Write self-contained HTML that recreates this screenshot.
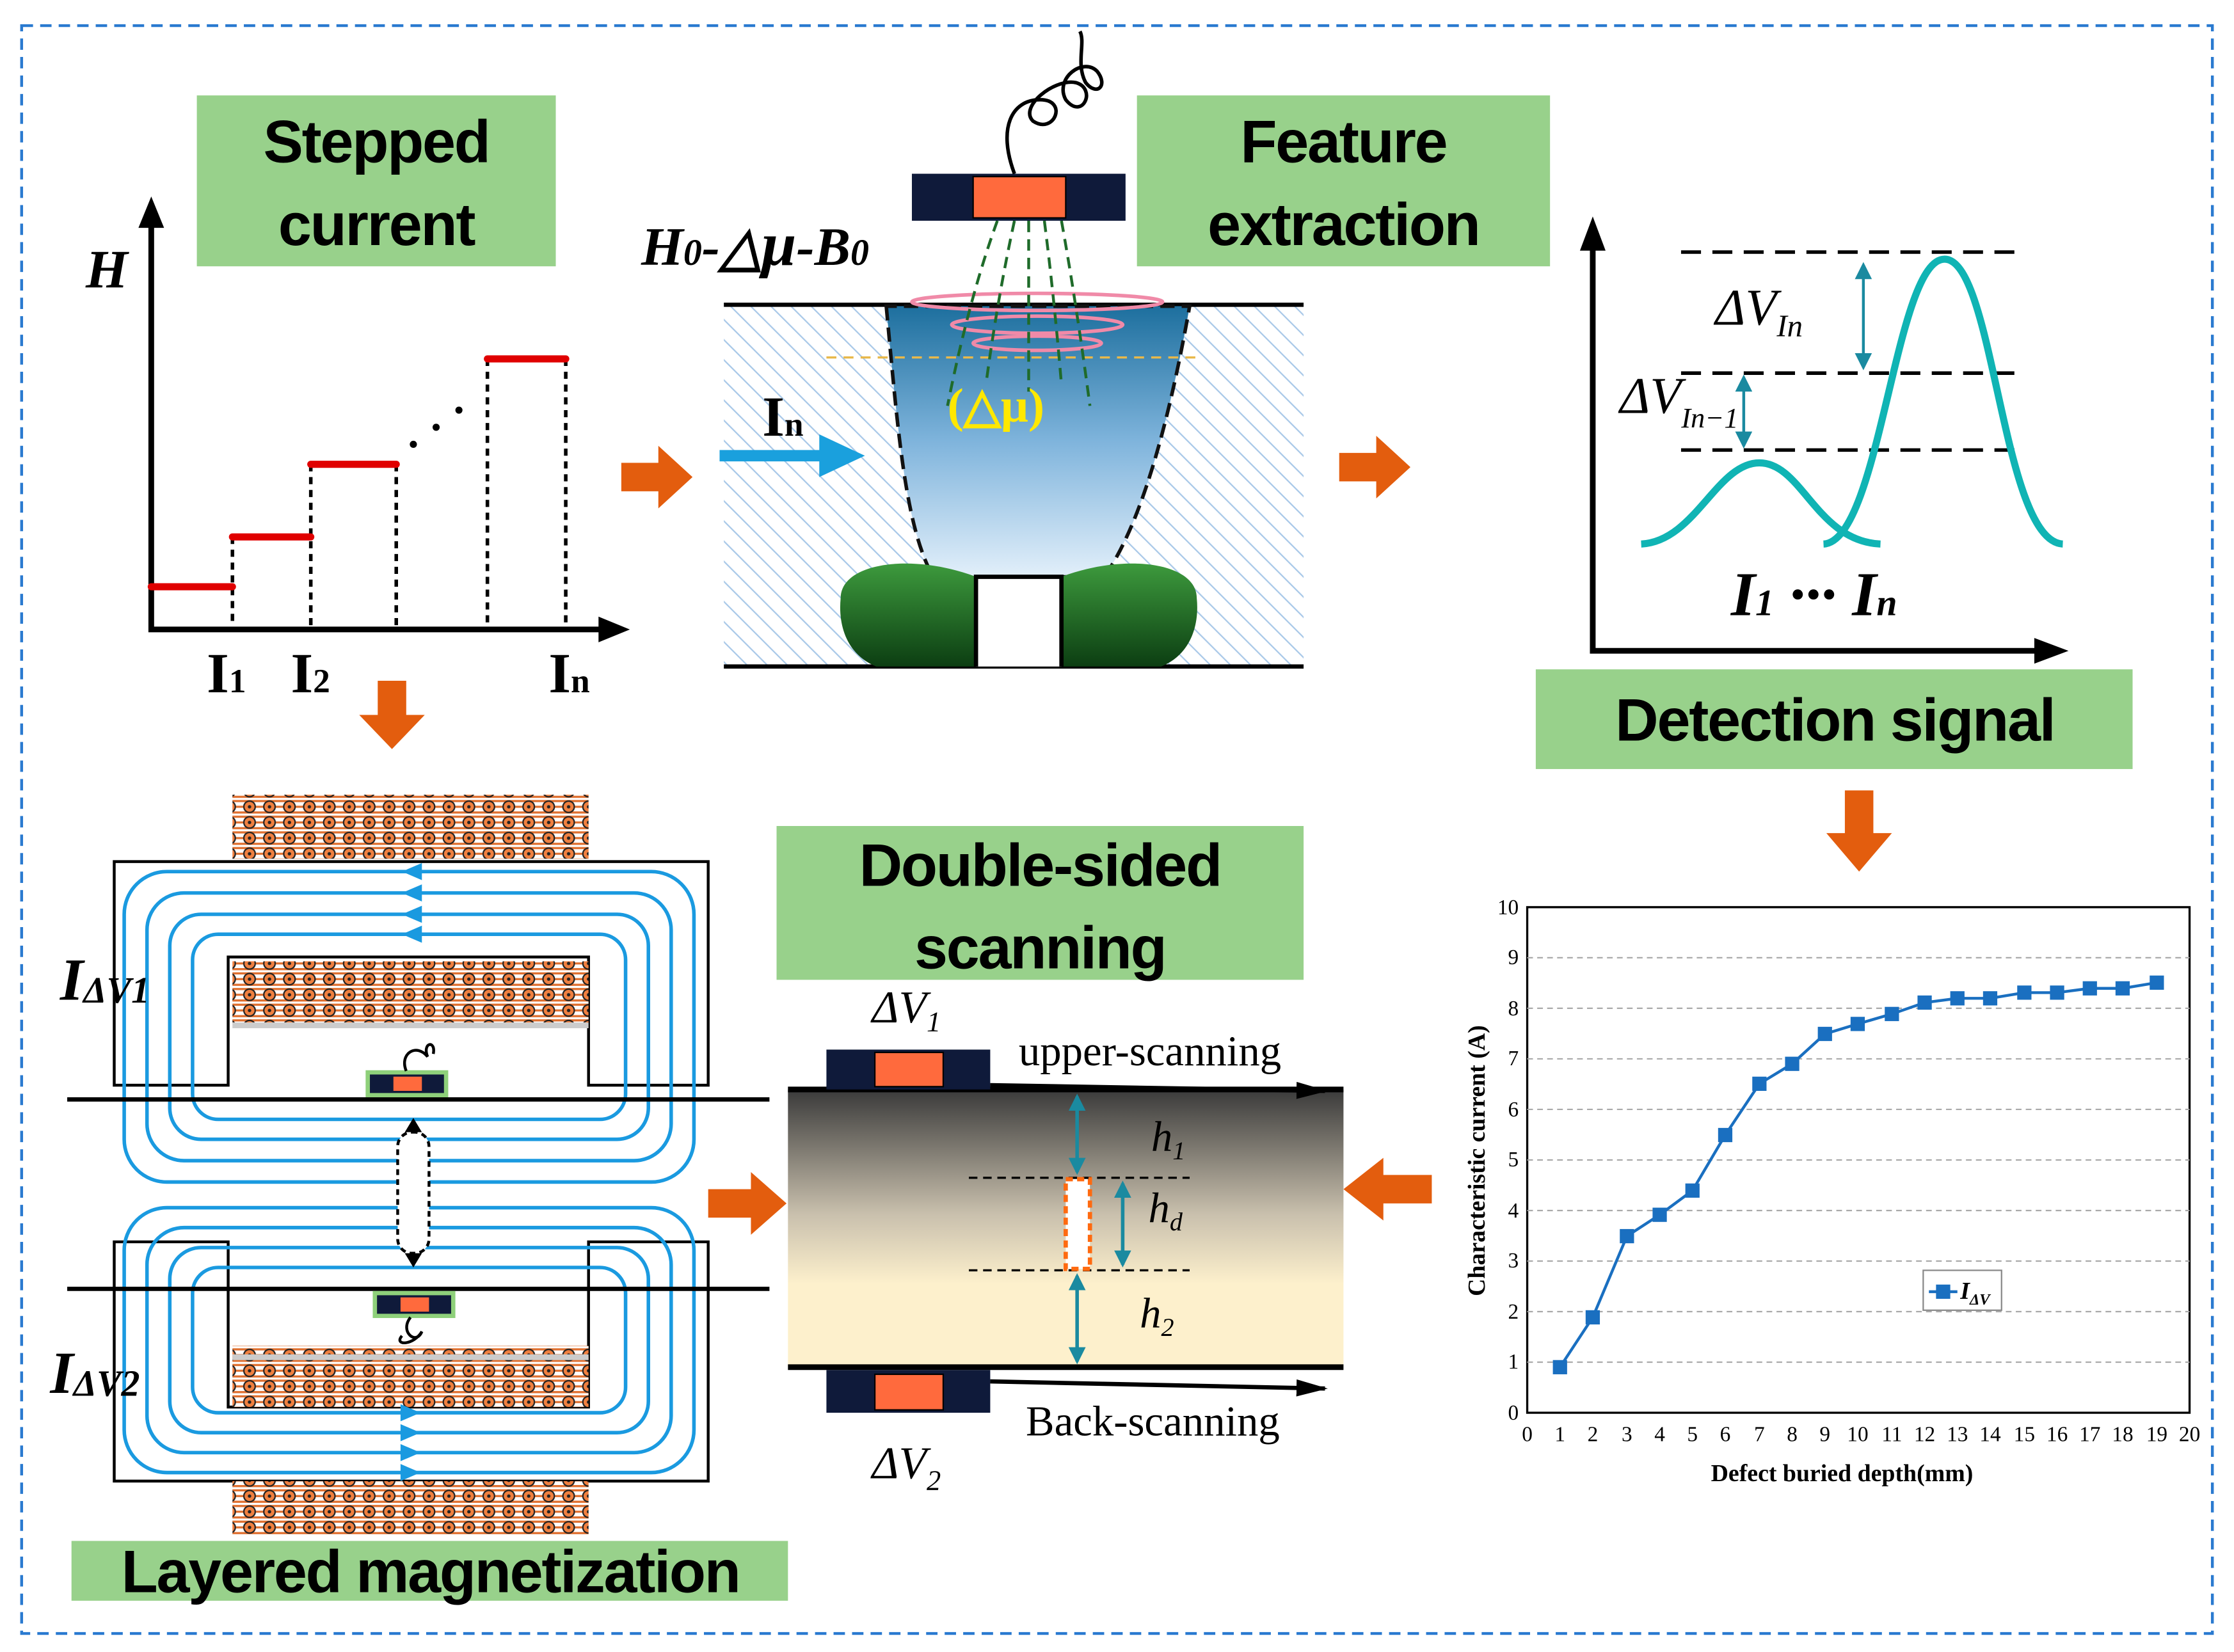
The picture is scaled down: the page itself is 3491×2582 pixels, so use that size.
<!DOCTYPE html>
<html><head><meta charset="utf-8"><style>
html,body{margin:0;padding:0;background:#fff}
svg{display:block}
text{font-family:"Liberation Serif",serif}
g.s text{font-family:"Liberation Sans",sans-serif}
</style></head><body>
<svg width="3491" height="2582" viewBox="0 0 1568 1160" xmlns="http://www.w3.org/2000/svg">
<defs>
<pattern id="hatch" width="10" height="10" patternUnits="userSpaceOnUse" patternTransform="rotate(-45)">
<rect width="10" height="10" fill="#fff"/><line x1="0" y1="0" x2="0" y2="10" stroke="#a8c8e8" stroke-width="2"/></pattern>
<linearGradient id="cone" x1="0" y1="0" x2="0" y2="1"><stop offset="0" stop-color="#1d6f9e"/><stop offset="0.5" stop-color="#7fb4dc"/><stop offset="1" stop-color="#e2effa"/></linearGradient>
<linearGradient id="blob" x1="0" y1="0" x2="0" y2="1"><stop offset="0" stop-color="#3d9a3d"/><stop offset="1" stop-color="#0c3e12"/></linearGradient>
<linearGradient id="plate" x1="0" y1="0" x2="0" y2="1"><stop offset="0" stop-color="#3a3a3a"/><stop offset="0.45" stop-color="#c9c0ad"/><stop offset="0.7" stop-color="#fdf0cc"/><stop offset="1" stop-color="#fdf0cc"/></linearGradient>
<pattern id="coil" width="14" height="11" patternUnits="userSpaceOnUse">
<rect width="14" height="11" fill="#fff"/>
<line x1="0" y1="1.5" x2="14" y2="1.5" stroke="#e07030" stroke-width="1.5"/>
<line x1="0" y1="5.5" x2="14" y2="5.5" stroke="#e07030" stroke-width="1.5"/>
<line x1="0" y1="9.5" x2="14" y2="9.5" stroke="#e07030" stroke-width="1.5"/>
<circle cx="7" cy="5.5" r="4" fill="#f08040" stroke="#222" stroke-width="1"/>
<circle cx="7" cy="5.5" r="1.2" fill="#222"/>
</pattern>
<marker id="ah" markerWidth="22" markerHeight="12" refX="20" refY="6" orient="auto" markerUnits="userSpaceOnUse"><path d="M0,0 L22,6 L0,12z" fill="#000"/></marker>
<marker id="tl" markerWidth="12" markerHeight="12" refX="10" refY="6" orient="auto" markerUnits="userSpaceOnUse"><path d="M0,0 L12,6 L0,12z" fill="#1a8aa0"/></marker>
<marker id="tl2" markerWidth="12" markerHeight="12" refX="10" refY="6" orient="auto-start-reverse" markerUnits="userSpaceOnUse"><path d="M0,0 L12,6 L0,12z" fill="#1a8aa0"/></marker>
</defs>
<rect x="0" y="0" width="1568" height="1160" fill="#fff"/>
<rect x="15" y="18" width="1538" height="1129" fill="none" stroke="#2a7ad0" stroke-width="2" stroke-dasharray="8,5"/>

<g fill="#98d18b">
<rect x="138" y="67" width="252" height="120"/>
<rect x="798" y="67" width="290" height="120"/>
<rect x="1078" y="470" width="419" height="70"/>
<rect x="545" y="580" width="370" height="108"/>
<rect x="50" y="1082" width="503" height="42"/>
</g>
<g class="s" font-size="42" text-anchor="middle" fill="#000" font-weight="bold" letter-spacing="-1">
<text x="264" y="114">Stepped</text><text x="264" y="172">current</text>
<text x="943" y="114">Feature</text><text x="943" y="172">extraction</text>
<text x="1288" y="520">Detection signal</text>
<text x="730" y="622">Double-sided</text><text x="730" y="680">scanning</text>
<text x="302" y="1118">Layered magnetization</text>
</g>

<g fill="#e35d0e">
<path d="M436,325 h26 v-12 l24,22 l-24,22 v-12 h-26z"/>
<path d="M940,318 h26 v-12 l24,22 l-24,22 v-12 h-26z"/>
<path d="M497,835 h30 v-12 l25,22 l-25,22 v-12 h-30z"/>
<path d="M1005,825 h-34 v-12 l-28,22 l28,22 v-12 h34z"/>
<path d="M265,478 v24 h-13 l23,24 l23,-24 h-13 v-24z"/>
<path d="M1295,555 v30 h-13 l23,27 l23,-27 h-13 v-30z"/>
</g>

<g stroke="#000" stroke-width="4" fill="none">
<path d="M106,150 V442 H430"/>
</g>
<path d="M106,138 l-9,22 h18z" fill="#000"/><path d="M442,442 l-22,-9 v18z" fill="#000"/>
<g stroke="#000" stroke-width="2.5" stroke-dasharray="5,4">
<line x1="163" y1="377" x2="163" y2="440"/><line x1="218" y1="326" x2="218" y2="440"/>
<line x1="278" y1="326" x2="278" y2="440"/><line x1="342" y1="252" x2="342" y2="440"/><line x1="397" y1="252" x2="397" y2="440"/>
</g>
<g stroke="#e00000" stroke-width="5" stroke-linecap="round">
<line x1="106" y1="412" x2="163" y2="412"/><line x1="163" y1="377" x2="218" y2="377"/>
<line x1="218" y1="326" x2="278" y2="326"/><line x1="342" y1="252" x2="397" y2="252"/>
</g>
<g fill="#000"><circle cx="290" cy="312" r="2.5"/><circle cx="306" cy="300" r="2.5"/><circle cx="322" cy="288" r="2.5"/></g>
<g font-weight="bold" fill="#000">
<text x="60" y="202" font-size="38" font-style="italic">H</text>
<text x="145" y="486" font-size="40">I<tspan font-size="24">1</tspan></text>
<text x="204" y="486" font-size="40">I<tspan font-size="24">2</tspan></text>
<text x="385" y="486" font-size="40">I<tspan font-size="24">n</tspan></text>
</g>

<rect x="508" y="214" width="407" height="254" fill="url(#hatch)"/>
<line x1="508" y1="214" x2="915" y2="214" stroke="#000" stroke-width="3"/>
<line x1="508" y1="468" x2="915" y2="468" stroke="#000" stroke-width="3"/>
<path d="M622,215 C630,300 635,370 655,405 H775 C800,370 820,300 835,215z" fill="url(#cone)" stroke="#111" stroke-width="2.5" stroke-dasharray="10,5"/>
<line x1="580" y1="251" x2="840" y2="251" stroke="#e8b84a" stroke-width="1.5" stroke-dasharray="7,5"/>
<g fill="none" stroke="#f08aa8" stroke-width="2.5">
<ellipse cx="728" cy="212" rx="88" ry="6"/><ellipse cx="728" cy="228" rx="60" ry="6"/><ellipse cx="728" cy="241" rx="45" ry="5"/>
</g>
<g fill="none" stroke="#1f6b2a" stroke-width="2" stroke-dasharray="8,5">
<path d="M700,155 Q680,210 665,285"/><path d="M712,155 Q700,210 692,270"/><path d="M745,155 Q755,210 765,285"/><path d="M733,155 Q740,210 745,270"/><path d="M722,155 V275"/>
</g>
<path d="M590,420 C590,395 640,388 685,405 V468 H615 C595,460 588,440 590,420z" fill="url(#blob)"/>
<path d="M840,420 C840,395 790,388 745,405 V468 H815 C835,460 842,440 840,420z" fill="url(#blob)"/>
<path d="M685,468 V405 H745 V468" fill="#fff" stroke="#000" stroke-width="3"/>
<rect x="640" y="122" width="150" height="33" fill="#0f1a3a"/>
<rect x="683" y="124" width="65" height="29" fill="#ff6a3d" stroke="#000"/>
<path d="M712,122 C700,90 710,70 730,70 C750,70 740,95 725,85 C715,75 740,55 755,58 C770,62 760,85 748,70 C740,55 760,40 770,50 C778,60 770,68 762,58 C755,45 762,30 758,22" fill="none" stroke="#000" stroke-width="2.5"/>
<text x="450" y="186" font-size="38" font-weight="bold" font-style="italic">H<tspan font-size="26">0</tspan>-△<tspan font-size="44">μ</tspan>-B<tspan font-size="26">0</tspan></text>
<text x="535" y="306" font-size="40" font-weight="bold">I<tspan font-size="24">n</tspan></text>
<path d="M505,320 H580" stroke="#1aa0dd" stroke-width="8"/><path d="M607,320 l-32,-15 v30z" fill="#1aa0dd"/>
<text x="665" y="296" font-size="34" font-weight="bold" fill="#ffe800">(△μ)</text>

<path d="M1118,165 V457 H1440" fill="none" stroke="#000" stroke-width="4"/>
<path d="M1118,152 l-9,24 h18z" fill="#000"/><path d="M1452,457 l-24,-9 v18z" fill="#000"/>
<g stroke="#000" stroke-width="2.5" stroke-dasharray="14,8">
<line x1="1180" y1="177" x2="1420" y2="177"/><line x1="1180" y1="262" x2="1420" y2="262"/><line x1="1180" y1="316" x2="1420" y2="316"/>
</g>
<g fill="none" stroke="#10b4b4" stroke-width="5">
<path d="M1152,382 C1190,380 1205,325 1235,325 C1265,325 1275,380 1320,382"/>
<path d="M1280,382 C1320,380 1330,182 1365,182 C1400,182 1405,380 1448,382"/>
</g>
<line x1="1308" y1="186" x2="1308" y2="258" stroke="#1a8aa0" stroke-width="2" marker-end="url(#tl)" marker-start="url(#tl2)"/>
<line x1="1224" y1="265" x2="1224" y2="313" stroke="#1a8aa0" stroke-width="2" marker-end="url(#tl)" marker-start="url(#tl2)"/>
<text x="1204" y="228" font-size="36" font-style="italic">ΔV<tspan font-size="22" dy="8">In</tspan></text>
<text x="1137" y="290" font-size="36" font-style="italic">ΔV<tspan font-size="20" dy="10">In−1</tspan></text>
<text x="1215" y="432" font-size="44" font-weight="bold" font-style="italic">I<tspan font-size="26">1</tspan> ··· I<tspan font-size="26">n</tspan></text>

<rect x="1072" y="637" width="465" height="355" fill="#fff" stroke="#000" stroke-width="1.5"/>
<g stroke="#aaa" stroke-width="1" stroke-dasharray="4,3">
<line x1="1072" y1="956.5" x2="1537" y2="956.5"/><line x1="1072" y1="921" x2="1537" y2="921"/><line x1="1072" y1="885.5" x2="1537" y2="885.5"/><line x1="1072" y1="850" x2="1537" y2="850"/><line x1="1072" y1="814.5" x2="1537" y2="814.5"/><line x1="1072" y1="779" x2="1537" y2="779"/><line x1="1072" y1="743.5" x2="1537" y2="743.5"/><line x1="1072" y1="708" x2="1537" y2="708"/><line x1="1072" y1="672.5" x2="1537" y2="672.5"/>
</g>
<g font-size="15" text-anchor="end">
<text x="1066" y="997">0</text><text x="1066" y="961">1</text><text x="1066" y="926">2</text><text x="1066" y="890">3</text><text x="1066" y="855">4</text><text x="1066" y="819">5</text><text x="1066" y="784">6</text><text x="1066" y="748">7</text><text x="1066" y="713">8</text><text x="1066" y="677">9</text><text x="1066" y="642">10</text>
</g>
<g font-size="15" text-anchor="middle">
<text x="1072" y="1012">0</text><text x="1095" y="1012">1</text><text x="1118" y="1012">2</text><text x="1142" y="1012">3</text><text x="1165" y="1012">4</text><text x="1188" y="1012">5</text><text x="1211" y="1012">6</text><text x="1235" y="1012">7</text><text x="1258" y="1012">8</text><text x="1281" y="1012">9</text><text x="1304" y="1012">10</text><text x="1328" y="1012">11</text><text x="1351" y="1012">12</text><text x="1374" y="1012">13</text><text x="1397" y="1012">14</text><text x="1421" y="1012">15</text><text x="1444" y="1012">16</text><text x="1467" y="1012">17</text><text x="1490" y="1012">18</text><text x="1514" y="1012">19</text><text x="1537" y="1012">20</text>
</g>
<text x="1293" y="1040" font-size="17" font-weight="bold" text-anchor="middle">Defect buried depth(mm)</text>
<text transform="translate(1042,815) rotate(-90)" font-size="17" font-weight="bold" text-anchor="middle">Characteristic current (A)</text>
<polyline fill="none" stroke="#1a6fc0" stroke-width="2" points="1095,960 1118,925 1142,868 1165,853 1188,836 1211,797 1235,761 1258,747 1281,726 1304,719 1328,712 1351,704 1374,701 1397,701 1421,697 1444,697 1467,694 1490,694 1514,690"/>
<g fill="#1a6fc0">
<rect x="1090" y="955" width="10" height="10"/><rect x="1113" y="920" width="10" height="10"/><rect x="1137" y="863" width="10" height="10"/><rect x="1160" y="848" width="10" height="10"/><rect x="1183" y="831" width="10" height="10"/><rect x="1206" y="792" width="10" height="10"/><rect x="1230" y="756" width="10" height="10"/><rect x="1253" y="742" width="10" height="10"/><rect x="1276" y="721" width="10" height="10"/><rect x="1299" y="714" width="10" height="10"/><rect x="1323" y="707" width="10" height="10"/><rect x="1346" y="699" width="10" height="10"/><rect x="1369" y="696" width="10" height="10"/><rect x="1392" y="696" width="10" height="10"/><rect x="1416" y="692" width="10" height="10"/><rect x="1439" y="692" width="10" height="10"/><rect x="1462" y="689" width="10" height="10"/><rect x="1485" y="689" width="10" height="10"/><rect x="1509" y="685" width="10" height="10"/>
</g>
<rect x="1350" y="892" width="55" height="28" fill="#fff" stroke="#888" stroke-width="1"/>
<line x1="1354" y1="907" x2="1374" y2="907" stroke="#1a6fc0" stroke-width="2"/><rect x="1359" y="902" width="10" height="10" fill="#1a6fc0"/>
<text x="1376" y="912" font-size="17" font-weight="bold" font-style="italic">I<tspan font-size="11" dy="4">ΔV</tspan></text>

<rect x="553" y="765" width="390" height="195" fill="url(#plate)"/>
<line x1="553" y1="765" x2="943" y2="765" stroke="#000" stroke-width="4"/>
<line x1="553" y1="960" x2="943" y2="960" stroke="#000" stroke-width="4"/>
<rect x="580" y="737" width="115" height="28" fill="#0f1a3a"/><rect x="614" y="739" width="48" height="24" fill="#ff6a3d" stroke="#000"/>
<rect x="580" y="962" width="115" height="30" fill="#0f1a3a"/><rect x="614" y="965" width="48" height="25" fill="#ff6a3d" stroke="#000"/>
<line x1="695" y1="762" x2="930" y2="766" stroke="#000" stroke-width="3" marker-end="url(#ah)"/>
<line x1="695" y1="970" x2="930" y2="975" stroke="#000" stroke-width="3" marker-end="url(#ah)"/>
<text x="715" y="748" font-size="30">upper-scanning</text>
<text x="720" y="1008" font-size="30">Back-scanning</text>
<text x="612" y="718" font-size="32" font-style="italic">ΔV<tspan font-size="20" dy="6">1</tspan></text>
<text x="612" y="1038" font-size="32" font-style="italic">ΔV<tspan font-size="20" dy="8">2</tspan></text>
<g stroke="#000" stroke-width="1.5" stroke-dasharray="6,4">
<line x1="680" y1="827" x2="835" y2="827"/><line x1="680" y1="892" x2="835" y2="892"/>
</g>
<rect x="748" y="828" width="17" height="63" fill="#fff" stroke="#ff6a10" stroke-width="3" stroke-dasharray="5,3"/>
<g stroke="#1a8aa0" stroke-width="2.5">
<line x1="756" y1="770" x2="756" y2="823" marker-end="url(#tl)" marker-start="url(#tl2)"/>
<line x1="788" y1="831" x2="788" y2="888" marker-end="url(#tl)" marker-start="url(#tl2)"/>
<line x1="756" y1="896" x2="756" y2="956" marker-end="url(#tl)" marker-start="url(#tl2)"/>
</g>
<text x="808" y="808" font-size="30" font-style="italic">h<tspan font-size="18" dy="6">1</tspan></text>
<text x="806" y="858" font-size="30" font-style="italic">h<tspan font-size="18" dy="6">d</tspan></text>
<text x="800" y="932" font-size="30" font-style="italic">h<tspan font-size="18" dy="6">2</tspan></text>

<g stroke="#000" stroke-width="2" fill="#fff">
<path d="M80,605 H497 V762 H413 V672 H160 V762 H80z"/>
<path d="M80,1040 H497 V872 H413 V988 H160 V872 H80z"/>
</g>
<rect x="163" y="558" width="250" height="45" fill="url(#coil)"/>
<rect x="163" y="675" width="250" height="43" fill="url(#coil)"/>
<rect x="163" y="945" width="250" height="43" fill="url(#coil)"/>
<rect x="163" y="1040" width="250" height="38" fill="url(#coil)"/>
<rect x="163" y="718" width="250" height="4" fill="#ccc"/><rect x="163" y="951" width="250" height="4" fill="#ccc"/>
<g fill="none" stroke="#1a9ae0" stroke-width="2.5">
<rect x="87" y="612" width="400" height="218" rx="30"/>
<rect x="103" y="627" width="368" height="188" rx="26"/>
<rect x="119" y="642" width="336" height="158" rx="22"/>
<rect x="135" y="656" width="304" height="130" rx="18"/>
<rect x="87" y="848" width="400" height="186" rx="30"/>
<rect x="103" y="862" width="368" height="158" rx="26"/>
<rect x="119" y="876" width="336" height="130" rx="22"/>
<rect x="135" y="890" width="304" height="102" rx="18"/>
</g>
<g fill="#1a9ae0">
<path d="M282,612 l14,-6 v12z"/><path d="M282,627 l14,-6 v12z"/><path d="M282,642 l14,-6 v12z"/><path d="M282,656 l14,-6 v12z"/>
<path d="M295,1034 l-14,-6 v12z"/><path d="M295,1020 l-14,-6 v12z"/><path d="M295,1006 l-14,-6 v12z"/><path d="M295,992 l-14,-6 v12z"/>
</g>
<line x1="47" y1="772" x2="540" y2="772" stroke="#000" stroke-width="3"/>
<line x1="47" y1="905" x2="540" y2="905" stroke="#000" stroke-width="3"/>
<rect x="258" y="753" width="55" height="16" fill="#0f1a3a" stroke="#8ed07a" stroke-width="3"/><rect x="276" y="756" width="20" height="10" fill="#ff6a3d"/>
<rect x="263" y="908" width="55" height="16" fill="#0f1a3a" stroke="#8ed07a" stroke-width="3"/><rect x="281" y="911" width="20" height="10" fill="#ff6a3d"/>
<path d="M285,752 C280,740 292,732 300,742 C296,732 306,730 304,740" fill="none" stroke="#000" stroke-width="2"/>
<path d="M288,925 C280,935 292,945 296,935 C290,945 276,945 282,938" fill="none" stroke="#000" stroke-width="2"/>
<rect x="279" y="795" width="22" height="85" rx="10" fill="#fff" stroke="#000" stroke-width="2" stroke-dasharray="4,3"/>
<path d="M290,785 l-6,10 h12z M290,890 l-6,-10 h12z" fill="#000"/>
<text x="42" y="702" font-size="42" font-weight="bold" font-style="italic">I<tspan font-size="26" dy="2">ΔV1</tspan></text>
<text x="35" y="978" font-size="42" font-weight="bold" font-style="italic">I<tspan font-size="26" dy="2">ΔV2</tspan></text>
</svg>
</body></html>
